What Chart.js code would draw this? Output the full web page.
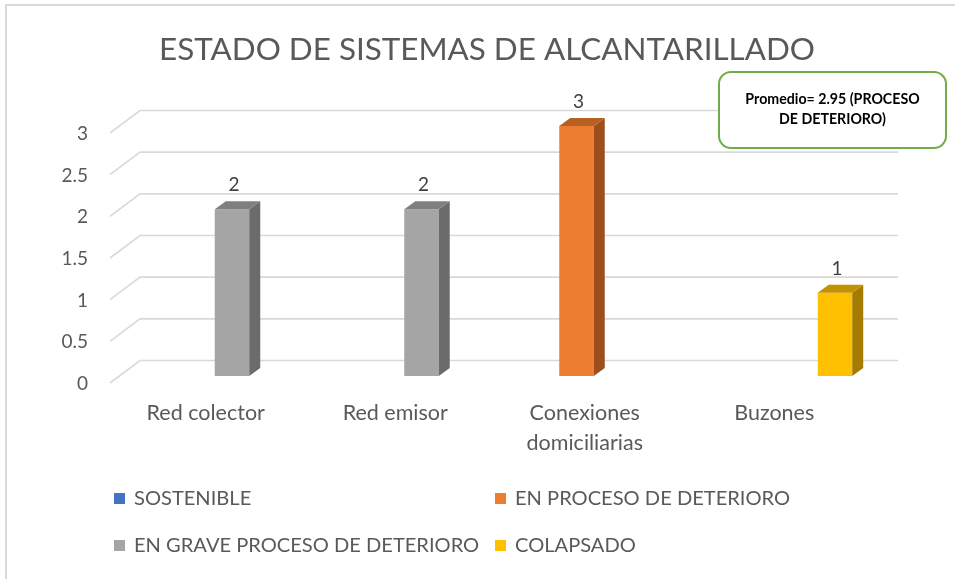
<!DOCTYPE html>
<html><head><meta charset="utf-8">
<script src="https://cdn.jsdelivr.net/npm/chart.js@4/dist/chart.umd.min.js"></script>
<style>html,body{margin:0;padding:0;background:#fff;overflow:hidden}</style>
</head><body>
<canvas id="c" width="955" height="579"></canvas>
<script>
// ---- data ----
const categories = [['Red colector'], ['Red emisor'], ['Conexiones', 'domiciliarias'], ['Buzones']];
const seriesNames = ['SOSTENIBLE', 'EN PROCESO DE DETERIORO', 'EN GRAVE PROCESO DE DETERIORO', 'COLAPSADO'];
const sostenible = [null, null, null, null];
const enProceso = [null, null, 3, null];
const enGrave = [2, 2, null, null];
const colapsado = [null, null, null, 1];
const yTicks = [0, 0.5, 1, 1.5, 2, 2.5, 3];
const titleText = 'ESTADO DE SISTEMAS DE ALCANTARILLADO';
const noteLines = ['Promedio= 2.95 (PROCESO', 'DE DETERIORO)'];

// ---- styles ----
const FONT = 'Lato, "Open Sans", sans-serif';
const frontColors = ['#4472c4', '#ed7d31', '#a5a5a5', '#ffc000'];
const sideColors  = ['#2f5597', '#9c4e1c', '#6b6b6b', '#a67c00'];
const topColors   = ['#3a62a8', '#b85f23', '#7f7f7f', '#c29200'];
const DX = 11, DY = 8;

const plugin = {
  id: 'excel3d',
  beforeDatasetsDraw(chart) {
    const ctx = chart.ctx, ys = chart.scales.y, xs = chart.scales.x, ca = chart.chartArea;
    ctx.save();
    // outer border
    ctx.strokeStyle = '#d9d9d9'; ctx.lineWidth = 2;
    ctx.beginPath(); ctx.moveTo(6, 579); ctx.lineTo(6, 5); ctx.lineTo(955, 5); ctx.stroke();
    // title
    ctx.fillStyle = '#595959'; ctx.font = '31.4px ' + FONT;
    ctx.textAlign = 'center'; ctx.textBaseline = 'middle';
    ctx.fillText(titleText, 487, 50);
    // grid (3D back wall)
    ctx.strokeStyle = '#d9d9d9'; ctx.lineWidth = 1.6;
    yTicks.forEach(v => {
      const p = ys.getPixelForValue(v);
      ctx.beginPath();
      ctx.moveTo(ca.left - 10, p + 7);
      ctx.lineTo(ca.left + 20, p - 15.5);
      ctx.lineTo(ca.right + 20, p - 15.5);
      ctx.stroke();
    });
    // y tick labels
    ctx.fillStyle = '#595959'; ctx.font = '19px ' + FONT;
    ctx.textAlign = 'right'; ctx.textBaseline = 'middle';
    yTicks.forEach(v => {
      const p = ys.getPixelForValue(v);
      ctx.fillText(String(v), 88, p + 8);
    });
    // category labels
    ctx.font = '21.5px ' + FONT;
    ctx.textAlign = 'center'; ctx.textBaseline = 'middle';
    categories.forEach((lines, i) => {
      const x = xs.getPixelForValue(i) - 9;
      lines.forEach((t, k) => ctx.fillText(t, x, 413 + k * 30));
    });
    // legend
    const legPos = [[114, 498], [495, 498], [114, 545], [495, 545]];
    ctx.font = '20.1px ' + FONT;
    ctx.textAlign = 'left';
    seriesNames.forEach((n, i) => {
      const [lx, ly] = legPos[i];
      ctx.fillStyle = frontColors[i];
      ctx.fillRect(lx, ly - 5, 11, 11);
      ctx.fillStyle = '#595959';
      ctx.fillText(n, lx + 20, ly + 1);
    });
    ctx.restore();
  },
  afterDatasetsDraw(chart) {
    const ctx = chart.ctx;
    ctx.save();
    chart.data.datasets.forEach((ds, i) => {
      const meta = chart.getDatasetMeta(i);
      meta.data.forEach((el, j) => {
        if (ds.data[j] == null) return;
        const l = el.x - el.width / 2, r = el.x + el.width / 2, t = el.y, b = el.base;
        // side face
        ctx.fillStyle = sideColors[i];
        ctx.beginPath();
        ctx.moveTo(r, t); ctx.lineTo(r + DX, t - DY); ctx.lineTo(r + DX, b - DY); ctx.lineTo(r, b);
        ctx.closePath(); ctx.fill();
        // top face
        ctx.fillStyle = topColors[i];
        ctx.beginPath();
        ctx.moveTo(l, t); ctx.lineTo(l + DX, t - DY); ctx.lineTo(r + DX, t - DY); ctx.lineTo(r, t);
        ctx.closePath(); ctx.fill();
        // value label
        ctx.fillStyle = '#404040'; ctx.font = '19px ' + FONT;
        ctx.textAlign = 'center'; ctx.textBaseline = 'middle';
        ctx.fillText(String(ds.data[j]), el.x + 2, t - 24);
      });
    });
    // note box
    const bx = 719, by = 72, bw = 227, bh = 76;
    ctx.fillStyle = '#ffffff'; ctx.strokeStyle = '#70ad47'; ctx.lineWidth = 2;
    ctx.beginPath(); ctx.roundRect(bx, by, bw, bh, 12); ctx.fill(); ctx.stroke();
    ctx.fillStyle = '#000000'; ctx.font = 'bold 14.2px ' + FONT;
    ctx.textAlign = 'center'; ctx.textBaseline = 'middle';
    noteLines.forEach((t, k) => ctx.fillText(t, bx + bw / 2, 99 + k * 20));
    ctx.restore();
  }
};

const seriesData = [sostenible, enProceso, enGrave, colapsado];
new Chart(document.getElementById('c'), {
  type: 'bar',
  data: {
    labels: categories.map(c => c.join(' ')),
    datasets: seriesNames.map((n, i) => ({
      label: n, data: seriesData[i], backgroundColor: frontColors[i],
      borderWidth: 0, barPercentage: 1, categoryPercentage: 0.728
    }))
  },
  options: {
    responsive: false, animation: false,
    layout: { padding: { left: 120, right: 77, top: 126, bottom: 203 } },
    plugins: { legend: { display: false }, title: { display: false }, tooltip: { enabled: false } },
    scales: {
      x: { display: false },
      y: { display: false, min: 0, max: 3 }
    }
  },
  plugins: [plugin]
});
</script>
</body></html>
